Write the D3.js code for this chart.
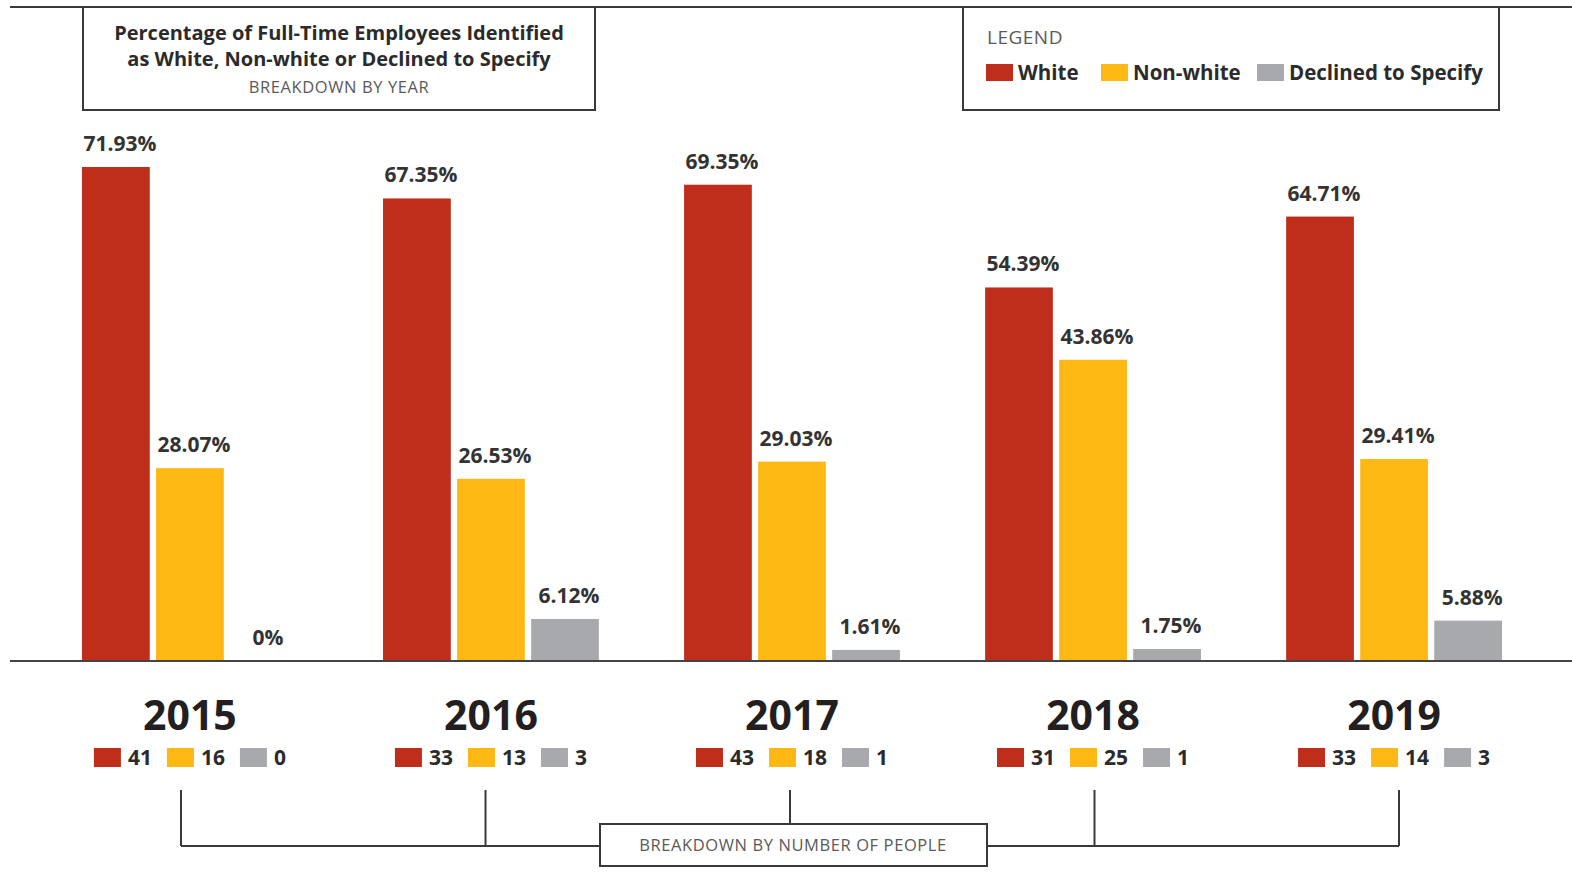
<!DOCTYPE html>
<html>
<head>
<meta charset="utf-8">
<script src="https://cdn.jsdelivr.net/npm/d3@7"></script>
<style>
  body { margin: 0; background: #fff; }
  text { font-family: "Open Sans", "Noto Sans", sans-serif; }
</style>
</head>
<body>
<div id="chart"></div>
<script>
// data
const years = ["2015", "2016", "2017", "2018", "2019"]
const series = ["White", "Non-white", "Declined to Specify"]
const whitePct = [71.93, 67.35, 69.35, 54.39, 64.71]
const nonWhitePct = [28.07, 26.53, 29.03, 43.86, 29.41]
const declinedPct = [0, 6.12, 1.61, 1.75, 5.88]
const whiteCount = [41, 33, 43, 31, 33]
const nonWhiteCount = [16, 13, 18, 25, 14]
const declinedCount = [0, 3, 1, 1, 3]
const colors = ["#bf2e1b", "#fdb813", "#a7a9ac"]

const pctBySeries = [whitePct, nonWhitePct, declinedPct]
const countBySeries = [whiteCount, nonWhiteCount, declinedCount]

const dataset = years.map((year, i) => ({
  year,
  bars: series.map((s, j) => ({ year, series: s, value: pctBySeries[j][i] })),
  counts: series.map((s, j) => ({ series: s, value: countBySeries[j][i] })),
}))

const width = 1572
const height = 885
const baseline = 661

const svg = d3.select("#chart").append("svg")
  .attr("width", width)
  .attr("height", height)

// scales
const xScale = d3.scaleBand()
  .domain(years)
  .range([82, 1502])
  .paddingInner(0.283)
  .paddingOuter(0)

const xInner = d3.scaleBand()
  .domain(series)
  .range([0, xScale.bandwidth()])
  .paddingInner(0.085)

const yScale = d3.scaleLinear()
  .domain([0, 71.93])
  .range([baseline, 167])

// bracket feet under the years
const xBracket = d3.scalePoint()
  .domain(years)
  .range([181, 1399])

const color = d3.scaleOrdinal().domain(series).range(colors)

// top rule
svg.append("line")
  .attr("x1", 10).attr("x2", width)
  .attr("y1", 7).attr("y2", 7)
  .attr("stroke", "#3a3a3a").attr("stroke-width", 2)

// title box
const titleBox = svg.append("g")
titleBox.append("rect")
  .attr("x", 83).attr("y", 7).attr("width", 512).attr("height", 103)
  .attr("fill", "#fff").attr("stroke", "#3a3a3a").attr("stroke-width", 2)
titleBox.selectAll("text.title")
  .data(["Percentage of Full-Time Employees Identified", "as White, Non-white or Declined to Specify"])
  .join("text")
    .attr("class", "title")
    .attr("x", 339)
    .attr("y", (d, i) => 40 + i * 26)
    .attr("text-anchor", "middle")
    .attr("font-size", 20)
    .attr("font-weight", 700)
    .attr("fill", "#2b2b2b")
    .text(d => d)
titleBox.append("text")
  .attr("x", 339).attr("y", 93)
  .attr("text-anchor", "middle")
  .attr("font-size", 16.5)
  .attr("letter-spacing", 0.6)
  .attr("fill", "#5a5a5a")
  .text("BREAKDOWN BY YEAR")

// legend box
const legend = svg.append("g")
legend.append("rect")
  .attr("x", 963).attr("y", 7).attr("width", 536).attr("height", 103)
  .attr("fill", "#fff").attr("stroke", "#3a3a3a").attr("stroke-width", 2)
legend.append("text")
  .attr("x", 987).attr("y", 44)
  .attr("font-size", 19)
  .attr("letter-spacing", 0.5)
  .attr("fill", "#5a5a5a")
  .text("LEGEND")
const legendX = [986, 1101, 1257]
const legendItems = legend.selectAll("g.item")
  .data(series)
  .join("g")
    .attr("class", "item")
    .attr("transform", (d, i) => `translate(${legendX[i]}, 64)`)
legendItems.append("rect")
  .attr("width", 27).attr("height", 17)
  .attr("fill", d => color(d))
legendItems.append("text")
  .attr("x", 32).attr("y", 16)
  .attr("font-size", 20.5)
  .attr("font-weight", 700)
  .attr("fill", "#2b2b2b")
  .text(d => d)

// bars
const groups = svg.selectAll("g.year")
  .data(dataset)
  .join("g")
    .attr("class", "year")
    .attr("transform", d => `translate(${xScale(d.year)}, 0)`)

groups.selectAll("rect")
  .data(d => d.bars)
  .join("rect")
    .attr("x", d => xInner(d.series))
    .attr("y", d => yScale(d.value))
    .attr("width", xInner.bandwidth())
    .attr("height", d => baseline - yScale(d.value))
    .attr("fill", d => color(d.series))

groups.selectAll("text.pct")
  .data(d => d.bars)
  .join("text")
    .attr("class", "pct")
    .attr("x", d => xInner(d.series) + xInner.bandwidth() / 2 + 4)
    .attr("y", d => yScale(d.value) - 16)
    .attr("text-anchor", "middle")
    .attr("font-size", 21)
    .attr("font-weight", 700)
    .attr("fill", "#333")
    .text(d => d.value === 0 ? "0%" : d.value.toFixed(2) + "%")

// baseline
svg.append("line")
  .attr("x1", 10).attr("x2", width)
  .attr("y1", baseline).attr("y2", baseline)
  .attr("stroke", "#444").attr("stroke-width", 2)

// year labels
groups.append("text")
  .attr("x", xScale.bandwidth() / 2)
  .attr("y", 730)
  .attr("text-anchor", "middle")
  .attr("font-size", 41)
  .attr("font-weight", 700)
  .attr("fill", "#231f20")
  .text(d => d.year)

// counts under each year
groups.each(function(d) {
  const g = d3.select(this).append("g")
  let x = 0
  d.counts.forEach((c, i) => {
    const item = g.append("g").attr("transform", `translate(${x}, 748)`)
    item.append("rect")
      .attr("width", 27).attr("height", 19)
      .attr("fill", color(c.series))
    const t = item.append("text")
      .attr("x", 34).attr("y", 17)
      .attr("font-size", 21)
      .attr("font-weight", 700)
      .attr("fill", "#2b2b2b")
      .text(c.value)
    x += 34 + t.node().getComputedTextLength() + 15
  })
  const w = x - 15
  g.attr("transform", `translate(${xScale.bandwidth() / 2 - w / 2}, 0)`)
})

// bracket
svg.selectAll("line.tick")
  .data(years)
  .join("line")
    .attr("class", "tick")
    .attr("x1", d => xBracket(d)).attr("x2", d => xBracket(d))
    .attr("y1", 790).attr("y2", (d, i) => i === 2 ? 824 : 846)
    .attr("stroke", "#3a3a3a").attr("stroke-width", 2)
svg.append("line")
  .attr("x1", xBracket(years[0])).attr("x2", xBracket(years[years.length - 1]))
  .attr("y1", 846).attr("y2", 846)
  .attr("stroke", "#3a3a3a").attr("stroke-width", 2)
svg.append("rect")
  .attr("x", 600).attr("y", 824).attr("width", 387).attr("height", 42)
  .attr("fill", "#fff").attr("stroke", "#3a3a3a").attr("stroke-width", 2)
svg.append("text")
  .attr("x", 793).attr("y", 851)
  .attr("text-anchor", "middle")
  .attr("font-size", 16.5)
  .attr("letter-spacing", 0.6)
  .attr("fill", "#5a5a5a")
  .text("BREAKDOWN BY NUMBER OF PEOPLE")
</script>
</body>
</html>
